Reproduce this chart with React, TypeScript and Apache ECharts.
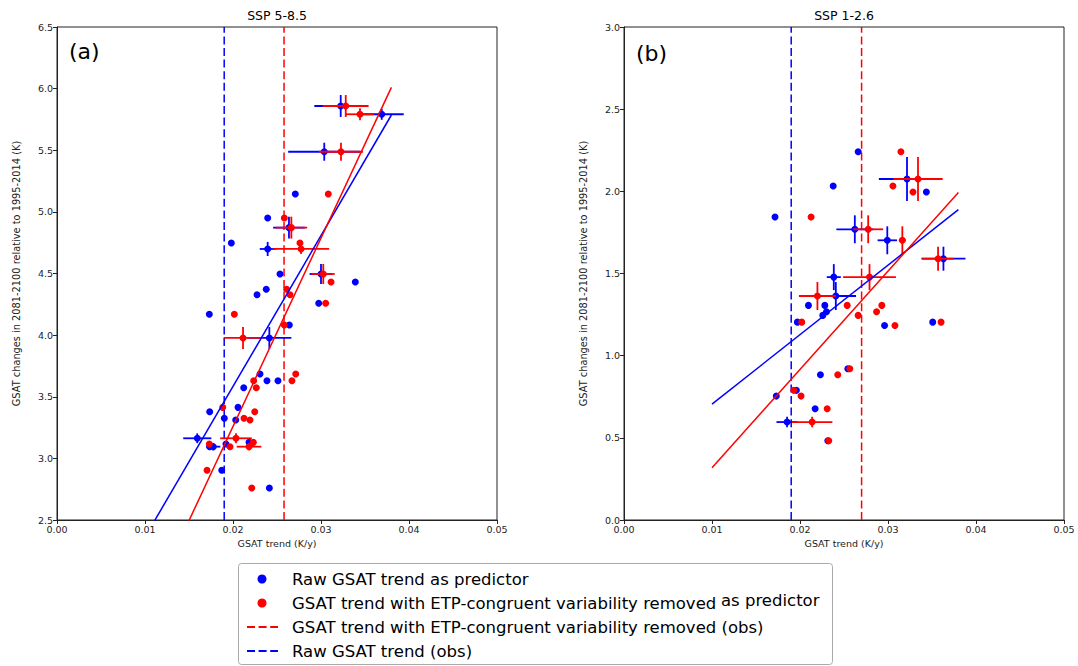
import React, { useEffect, useRef } from "react";
import * as echarts from "echarts";

const FONT = "DejaVu Sans";

// ---------- Panel (a) SSP 5-8.5 ----------
const aBluePts: number[][] = [
  [0.02708, 5.145], [0.02394, 4.95], [0.01981, 4.747], [0.02534, 4.496], [0.0339, 4.431],
  [0.02378, 4.372], [0.02273, 4.328], [0.02974, 4.258], [0.01731, 4.169], [0.0264, 4.082],
  [0.02307, 3.685], [0.02386, 3.63], [0.02511, 3.63], [0.02122, 3.573], [0.01735, 3.379],
  [0.02057, 3.414], [0.02031, 3.311], [0.0192, 3.117], [0.01735, 3.095], [0.02182, 3.13],
  [0.01872, 2.903], [0.02413, 2.76], [0.01901, 3.325],
];
// [x, y, xerr, yerr]
const aBlueErr: number[][] = [
  [0.03224, 5.859, 0.003, 0.089], [0.0369, 5.792, 0.0025, 0.045], [0.03037, 5.488, 0.0041, 0.073],
  [0.02636, 4.872, 0.0018, 0.089], [0.02394, 4.699, 0.0009, 0.057], [0.03, 4.496, 0.0013, 0.081],
  [0.02413, 3.977, 0.0025, 0.089], [0.01594, 3.163, 0.0016, 0.04], [0.01776, 3.095, 0.0008, 0.03],
];
const aRedPts: number[][] = [
  [0.03083, 5.145], [0.02583, 4.95], [0.02761, 4.747], [0.03114, 4.431], [0.0261, 4.372],
  [0.02648, 4.328], [0.03053, 4.258], [0.02015, 4.169], [0.02583, 4.082], [0.02713, 3.685],
  [0.02235, 3.63], [0.0267, 3.63], [0.02265, 3.573], [0.01883, 3.414], [0.02247, 3.379],
  [0.02125, 3.325], [0.02193, 3.311], [0.01731, 3.117], [0.01966, 3.095], [0.02231, 3.13],
  [0.01705, 2.903], [0.02213, 2.76],
];
const aRedErr: number[][] = [
  [0.03281, 5.859, 0.0026, 0.089], [0.03443, 5.792, 0.0016, 0.049], [0.03227, 5.488, 0.0025, 0.073],
  [0.02663, 4.872, 0.0018, 0.089], [0.02773, 4.699, 0.0032, 0.04], [0.03026, 4.496, 0.0013, 0.081],
  [0.02114, 3.977, 0.0022, 0.089], [0.02034, 3.163, 0.0018, 0.04], [0.02182, 3.095, 0.0014, 0.03],
];
const aBlueFit: number[][] = [[0.01, 2.361], [0.038, 5.786]];
const aRedFit: number[][] = [[0.01, 1.731], [0.038, 6.01]];
const aBlueObs = 0.019;
const aRedObs = 0.0258;

// ---------- Panel (b) SSP 1-2.6 ----------
const bBluePts: number[][] = [
  [0.02661, 2.241], [0.02377, 2.032], [0.03436, 1.996], [0.01716, 1.844], [0.02096, 1.306],
  [0.02282, 1.306], [0.02301, 1.267], [0.02259, 1.245], [0.0197, 1.204], [0.03508, 1.204],
  [0.02961, 1.184], [0.02232, 0.884], [0.02543, 0.92], [0.01959, 0.789], [0.01731, 0.754],
  [0.02172, 0.677], [0.02316, 0.482],
];
const bBlueErr: number[][] = [
  [0.03216, 2.075, 0.0032, 0.134], [0.02623, 1.769, 0.0021, 0.085], [0.02992, 1.702, 0.0011, 0.085],
  [0.0363, 1.59, 0.0025, 0.073], [0.02384, 1.478, 0.0008, 0.079], [0.02407, 1.363, 0.0023, 0.085],
  [0.01853, 0.596, 0.0012, 0.032],
];
const bRedPts: number[][] = [
  [0.03147, 2.241], [0.03056, 2.032], [0.03284, 1.996], [0.02126, 1.844], [0.02536, 1.306],
  [0.0293, 1.306], [0.0287, 1.267], [0.02661, 1.245], [0.0202, 1.204], [0.03603, 1.204],
  [0.03079, 1.184], [0.02429, 0.884], [0.02566, 0.92], [0.01929, 0.789], [0.02012, 0.754],
  [0.02309, 0.677], [0.02327, 0.482],
];
const bRedErr: number[][] = [
  [0.03341, 2.075, 0.0028, 0.134], [0.02775, 1.769, 0.0017, 0.085], [0.03163, 1.702, 0.0004, 0.085],
  [0.03569, 1.59, 0.0018, 0.073], [0.0279, 1.478, 0.003, 0.079], [0.02198, 1.363, 0.0021, 0.085],
  [0.02138, 0.596, 0.0023, 0.032],
];
const bBlueFit: number[][] = [[0.01, 0.705], [0.038, 1.889]];
const bRedFit: number[][] = [[0.01, 0.318], [0.038, 1.993]];
const bBlueObs = 0.019;
const bRedObs = 0.027;

const titles = ["SSP 5-8.5", "SSP 1-2.6"];
const panelLabels = ["(a)", "(b)"];
const xName = "GSAT trend (K/y)";
const yName = "GSAT changes in 2081-2100 relative to 1995-2014 (K)";
const legendItems = [
  "Raw GSAT trend as predictor",
  "GSAT trend with ETP-congruent variability removed",
  "GSAT trend with ETP-congruent variability removed (obs)",
  "Raw GSAT trend (obs)",
];
const legendExtra = "as predictor";

const BLUE = "#0000ff";
const RED = "#ff0000";
const AX = "#222222";

function errSeries(data: number[][], color: string, idx: number, z: number) {
  return {
    type: "custom",
    xAxisIndex: idx,
    yAxisIndex: idx,
    z,
    silent: true,
    encode: { x: 0, y: 1 },
    data,
    renderItem: (params: any, api: any) => {
      const x = api.value(0);
      const y = api.value(1);
      const xe = api.value(2);
      const ye = api.value(3);
      const l = api.coord([x - xe, y]);
      const r = api.coord([x + xe, y]);
      const t = api.coord([x, y + ye]);
      const b = api.coord([x, y - ye]);
      return {
        type: "group",
        children: [
          { type: "line", shape: { x1: l[0], y1: l[1], x2: r[0], y2: r[1] }, style: { stroke: color, lineWidth: 1.8 } },
          { type: "line", shape: { x1: t[0], y1: t[1], x2: b[0], y2: b[1] }, style: { stroke: color, lineWidth: 1.8 } },
        ],
      };
    },
  };
}

function scatter(data: number[][], color: string, idx: number, z: number) {
  return {
    type: "scatter",
    xAxisIndex: idx,
    yAxisIndex: idx,
    z,
    symbol: "circle",
    symbolSize: 7,
    itemStyle: { color, opacity: 1 },
    data,
  };
}

function line(data: number[][], color: string, idx: number, z: number, dashed: boolean) {
  return {
    type: "line",
    xAxisIndex: idx,
    yAxisIndex: idx,
    z,
    clip: true,
    showSymbol: false,
    symbol: "none",
    lineStyle: { color, width: 1.5, type: dashed ? [8, 3.6] : "solid" },
    data,
  };
}

export default function App() {
  const ref = useRef<HTMLDivElement>(null);
  useEffect(() => {
    document.body.style.margin = "0";
    const chart = echarts.init(ref.current!, null, { renderer: "svg" });
    const grids = [
      { left: 57, top: 27, width: 440, height: 493 },
      { left: 624, top: 27, width: 440, height: 493 },
    ];
    const yRanges = [
      [2.5, 6.5],
      [0, 3],
    ];
    const xAxis = grids.map((_, i) => ({
      type: "value",
      gridIndex: i,
      min: 0,
      max: 0.05,
      interval: 0.01,
      name: xName,
      nameLocation: "middle",
      nameGap: 18,
      nameTextStyle: { fontFamily: FONT, fontSize: 9.5, color: AX },
      axisLine: { show: true, lineStyle: { color: AX, width: 1 } },
      axisTick: { show: true, inside: false, length: 4, lineStyle: { color: AX } },
      axisLabel: { fontFamily: FONT, fontSize: 9.5, color: AX, margin: 4, formatter: (v: number) => v.toFixed(2) },
      splitLine: { show: false },
    }));
    const yAxis = grids.map((_, i) => ({
      type: "value",
      gridIndex: i,
      min: yRanges[i][0],
      max: yRanges[i][1],
      interval: 0.5,
      name: yName,
      nameLocation: "middle",
      nameGap: 36,
      nameRotate: 90,
      nameTextStyle: { fontFamily: FONT, fontSize: 9.8, color: AX },
      axisLine: { show: true, lineStyle: { color: AX, width: 1 } },
      axisTick: { show: true, inside: false, length: 4, lineStyle: { color: AX } },
      axisLabel: { fontFamily: FONT, fontSize: 9.5, color: AX, margin: 4, formatter: (v: number) => v.toFixed(1) },
      splitLine: { show: false },
    }));

    const vline = (x: number, idx: number, color: string) =>
      line([[x, yRanges[idx][0]], [x, yRanges[idx][1]]], color, idx, 2, true);

    const series: any[] = [
      vline(aBlueObs, 0, BLUE),
      vline(aRedObs, 0, RED),
      errSeries(aBlueErr, BLUE, 0, 3),
      scatter([...aBluePts, ...aBlueErr.map((d) => [d[0], d[1]])], BLUE, 0, 4),
      errSeries(aRedErr, RED, 0, 5),
      scatter([...aRedPts, ...aRedErr.map((d) => [d[0], d[1]])], RED, 0, 6),
      line(aBlueFit, BLUE, 0, 7, false),
      line(aRedFit, RED, 0, 7, false),
      vline(bBlueObs, 1, BLUE),
      vline(bRedObs, 1, RED),
      errSeries(bBlueErr, BLUE, 1, 3),
      scatter([...bBluePts, ...bBlueErr.map((d) => [d[0], d[1]])], BLUE, 1, 4),
      errSeries(bRedErr, RED, 1, 5),
      scatter([...bRedPts, ...bRedErr.map((d) => [d[0], d[1]])], RED, 1, 6),
      line(bBlueFit, BLUE, 1, 7, false),
      line(bRedFit, RED, 1, 7, false),
    ];

    const lx = 238;
    const ly = 563;
    const rowY = [579, 603, 627, 651];
    const graphic: any[] = [
      ...titles.map((t, i) => ({
        type: "text",
        x: grids[i].left + grids[i].width / 2,
        y: 15,
        style: { text: t, font: `12.5px '${FONT}'`, fill: "#000", align: "center", verticalAlign: "middle" },
        z: 10,
      })),
      ...panelLabels.map((t, i) => ({
        type: "text",
        x: grids[i].left + 12,
        y: 40 + i * 2,
        style: { text: t, font: `22px '${FONT}'`, fill: "#000" },
        z: 10,
      })),
      {
        type: "rect",
        shape: { x: lx + 0.5, y: ly + 0.5, width: 594, height: 101, r: 3 },
        style: { fill: "#fff", stroke: "#aaaaaa", lineWidth: 1 },
        z: 10,
      },
      { type: "circle", shape: { cx: 262, cy: rowY[0], r: 4.5 }, style: { fill: BLUE }, z: 11 },
      { type: "circle", shape: { cx: 262, cy: rowY[1], r: 4.5 }, style: { fill: RED }, z: 11 },
      {
        type: "line",
        shape: { x1: 247, y1: rowY[2], x2: 278, y2: rowY[2] },
        style: { stroke: RED, lineWidth: 2, lineDash: [8, 3.6] },
        z: 11,
      },
      {
        type: "line",
        shape: { x1: 247, y1: rowY[3], x2: 278, y2: rowY[3] },
        style: { stroke: BLUE, lineWidth: 2, lineDash: [8, 3.6] },
        z: 11,
      },
      ...legendItems.map((t, i) => ({
        type: "text",
        x: 292,
        y: rowY[i],
        style: { text: t, font: `16.5px '${FONT}'`, fill: "#000", verticalAlign: "middle" },
        z: 11,
      })),
      {
        type: "text",
        x: 721,
        y: rowY[1] - 3,
        style: { text: legendExtra, font: `16.5px '${FONT}'`, fill: "#000", verticalAlign: "middle" },
        z: 11,
      },
    ];

    chart.setOption({
      animation: false,
      backgroundColor: "#fff",
      grid: grids.map((g) => ({ ...g, show: true, borderColor: AX, borderWidth: 1, backgroundColor: "transparent" })),
      xAxis,
      yAxis,
      series,
      graphic,
    });
    return () => chart.dispose();
  }, []);
  return <div ref={ref} style={{ position: "fixed", left: 0, top: 0, width: 1078, height: 666 }} />;
}
